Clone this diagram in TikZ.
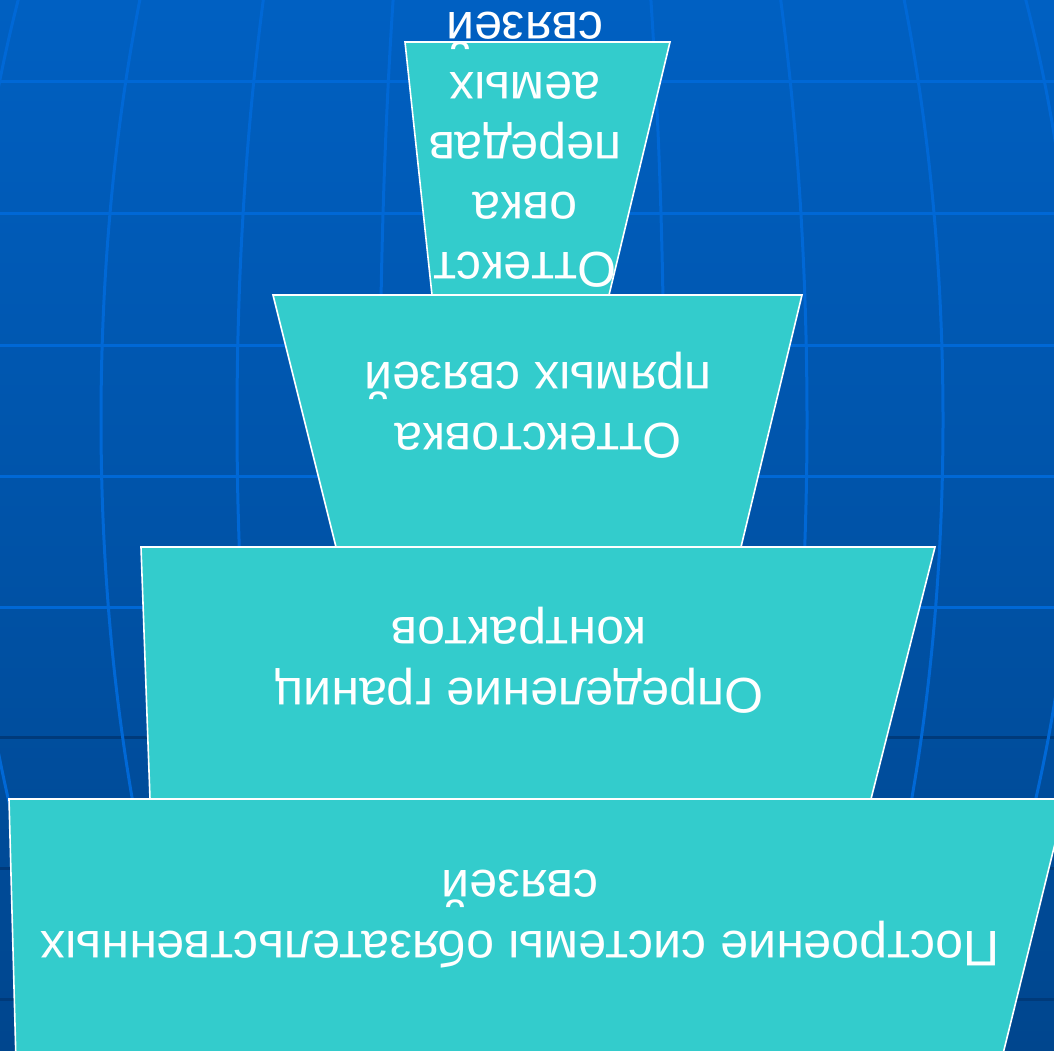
\documentclass[tikz,border=0pt]{standalone}
\usepackage{fontspec}
\setmainfont{Liberation Sans}
\definecolor{slidetop}{RGB}{0,96,194}
\definecolor{slidebottom}{RGB}{0,70,142}
\definecolor{gridlight}{RGB}{0,104,214}
\definecolor{griddark}{RGB}{0,58,122}
\definecolor{boxfill}{RGB}{51,204,204}
\tikzset{
	layerbox/.style={fill=boxfill, draw=white, line width=1.6pt, line join=miter},
	layertext/.style={text=white, font=\fontsize{50}{61}\selectfont, align=center, rotate=180, anchor=base, inner sep=0pt},
	gridline/.style={line width=3pt}
}

\begin{document}
\begin{tikzpicture}[x=1pt, y=-1pt]
	\useasboundingbox (0,0) rectangle (1054,1051);
	\shade[top color=slidetop, bottom color=slidebottom] (0,0) rectangle (1054,1051);
	% globe grid
	\begin{scope}
		\clip (0,0) rectangle (1054,1051);
		\foreach \yy in {82,213,345,476,607}
			\draw[gridline, gridlight] (0,\yy) -- (1054,\yy);
		\foreach \yy in {737,868,999}
			\draw[gridline, griddark] (0,\yy) -- (1054,\yy);
		\foreach \rx in {142,285,421,555}
			\draw[gridline, gridlight] (522,420) ellipse [x radius=\rx, y radius=1000];
	\end{scope}
	% layers
	\draw[layerbox] (405,42) -- (670,42) -- (609,295) -- (432,295) -- cycle;
	\draw[layerbox] (273,295) -- (802,295) -- (741,547) -- (336,547) -- cycle;
	\draw[layerbox] (141,547) -- (935,547) -- (871,799) -- (150,799) -- cycle;
	\draw[layerbox] (9,799) -- (1066,799) -- (1001,1062) -- (16,1062) -- cycle;
	\node[layertext, font=\fontsize{50}{60}\selectfont] (top) at (525,13) {Оттекст\\овка\\передав\\аемых\\связей};
	\node[layertext] (direct) at (538,362) {Оттекстовка\\прямых связей};
	\node[layertext] (bounds) at (519,617) {Определение границ\\контрактов};
	\node[layertext] (base) at (520,870) {Построение системы обязательственных\\связей};
\end{tikzpicture}
\end{document}
